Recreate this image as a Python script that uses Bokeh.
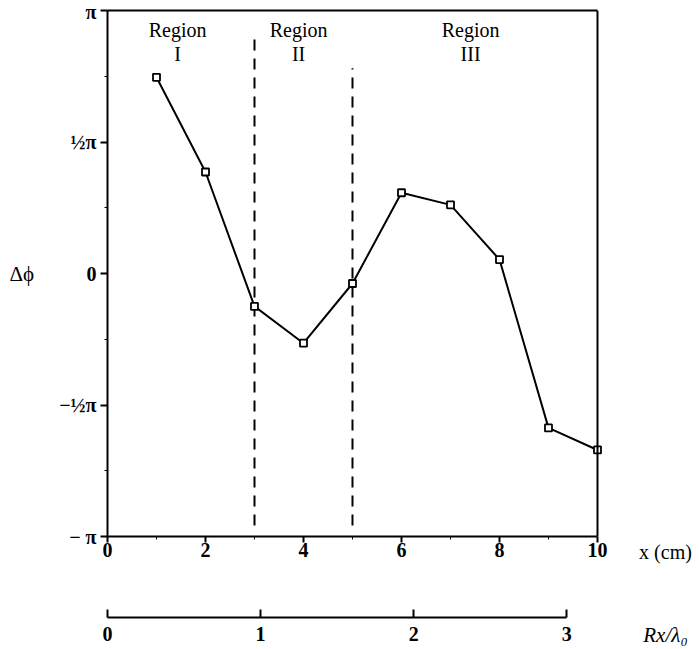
import numpy as np
from bokeh.plotting import figure
from bokeh.models import Range1d, LinearAxis, FixedTicker, Span, ColumnDataSource
from bokeh.embed import file_html
from bokeh.resources import INLINE
from bokeh.core.properties import value

# ---- data (phase difference in units of pi) ----
x_cm = [1, 2, 3, 4, 5, 6, 7, 8, 9, 10]
dphi_over_pi = [0.746, 0.386, -0.125, -0.265, -0.038, 0.307, 0.261, 0.053, -0.587, -0.671]

region_numerals = ["I", "II", "III"]
region_centers = [1.43, 3.9, 7.41]
boundary_x = [3, 5]
boundary_top = [0.894, 0.780]
boundary_bottom = [-0.958, -0.958]

x_ticks = [0, 2, 4, 6, 8, 10]
x_minor = [1, 3, 5, 7, 9]
y_ticks = [-1.0, -0.5, 0.0, 0.5, 1.0]
y_tick_labels = ["\u2212 \u03c0", "\u2212\u00bd\u03c0", "0", "\u00bd\u03c0", "\u03c0"]
y_minor = [-0.75, -0.25, 0.25, 0.75]
rx_ticks = [0, 1, 2, 3]
rx_per_cm = 0.32
x_max = 10
x_view_end = 11.388  # room at right, where the axis titles are centred

FONT = "Liberation Serif"

p = figure(width=699, height=649, x_range=Range1d(0, x_view_end), y_range=Range1d(-1, 1),
           output_backend="svg", toolbar_location=None,
           x_axis_location=None, y_axis_location=None,
           min_border_left=107, min_border_right=34, min_border_top=10, min_border_bottom=111)
p.extra_x_ranges = {"rx": Range1d(0, x_view_end * rx_per_cm)}
p.outline_line_color = None
p.xgrid.visible = False
p.ygrid.visible = False
p.background_fill_color = "white"
p.border_fill_color = "white"


def style_labels(ax):
    ax.major_label_text_font = FONT
    ax.major_label_text_font_size = "20px"
    ax.major_label_text_font_style = "bold"
    ax.major_label_text_color = "black"
    ax.axis_label_text_font = FONT
    ax.axis_label_text_font_size = "19px"
    ax.axis_label_text_color = "black"
    ax.axis_line_width = 2
    ax.major_tick_line_width = 2


# left axis
ya = LinearAxis(ticker=FixedTicker(ticks=y_ticks, minor_ticks=y_minor))
ya.major_label_overrides = {t: l for t, l in zip(y_ticks, y_tick_labels)}
style_labels(ya)
ya.major_tick_out = 7
ya.major_tick_in = 0
ya.minor_tick_out = 3
ya.minor_tick_in = 0
ya.major_label_standoff = 4
ya.axis_label = "\u0394\u03d5"
ya.axis_label_orientation = "horizontal"
ya.axis_label_text_font_style = "normal"
ya.axis_label_text_font_size = "21px"
ya.axis_label_standoff = 22
p.add_layout(ya, "left")

# top border as an axis without ticks
ta = LinearAxis(ticker=FixedTicker(ticks=[], minor_ticks=[]), bounds=(0, x_max))
ta.axis_line_width = 2
ta.major_tick_out = 0
ta.major_tick_in = 0
ta.minor_tick_out = 0
ta.minor_tick_in = 0
ta.major_label_standoff = 0
p.add_layout(ta, "above")

# right border
p.add_layout(Span(location=x_max, dimension="height", line_color="black", line_width=2))

# bottom axis (x in cm)
xa = LinearAxis(ticker=FixedTicker(ticks=x_ticks, minor_ticks=x_minor), bounds=(0, x_max))
style_labels(xa)
xa.major_tick_out = 6
xa.major_tick_in = 0
xa.minor_tick_out = 3
xa.minor_tick_in = 0
xa.major_label_standoff = 0
xa.axis_label = "x (cm)"
xa.axis_label_align = "end"
xa.axis_label_text_font_style = "normal"
xa.axis_label_text_font_size = "20px"
xa.axis_label_standoff = -19
p.add_layout(xa, "below")

# spacer between the two scales
sp = LinearAxis(ticker=FixedTicker(ticks=[], minor_ticks=[]))
sp.axis_line_color = None
sp.major_tick_out = 0
sp.major_tick_in = 0
sp.minor_tick_out = 0
sp.minor_tick_in = 0
sp.major_label_standoff = 0
sp.axis_label = "\u00a0"
sp.axis_label_text_font_size = "19px"
sp.axis_label_standoff = 28
p.add_layout(sp, "below")

# second axis Rx/lambda0
ra = LinearAxis(x_range_name="rx", ticker=FixedTicker(ticks=rx_ticks, minor_ticks=[]), bounds=(0, 3))
style_labels(ra)
ra.major_tick_in = 8
ra.major_tick_out = 0
ra.minor_tick_in = 0
ra.minor_tick_out = 0
ra.major_label_standoff = 9
ra.axis_label = "Rx/\u03bb\u2080"
ra.axis_label_align = "end"
ra.axis_label_text_font_style = "italic"
ra.axis_label_text_font_size = "21px"
ra.axis_label_standoff = -21
p.add_layout(ra, "below")

# region boundaries
p.segment(x0=boundary_x, y0=boundary_bottom, x1=boundary_x, y1=boundary_top,
          line_color="black", line_width=2, line_dash="11 8")

# region labels
p.text(x=region_centers, y=[0.924] * 3, text=["Region"] * 3, text_align="center",
       text_baseline="middle", text_font=value(FONT), text_font_size="20px", text_color="black")
p.text(x=region_centers, y=[0.835] * 3, text=region_numerals, text_align="center",
       text_baseline="middle", text_font=value(FONT), text_font_size="20px", text_color="black")

# data
src = ColumnDataSource(dict(x=x_cm, y=dphi_over_pi))
p.line("x", "y", source=src, line_color="black", line_width=2)
p.scatter("x", "y", source=src, marker="square", size=7, fill_color="white",
          line_color="black", line_width=1.8)

open("out.html", "w").write(file_html(p, INLINE))
